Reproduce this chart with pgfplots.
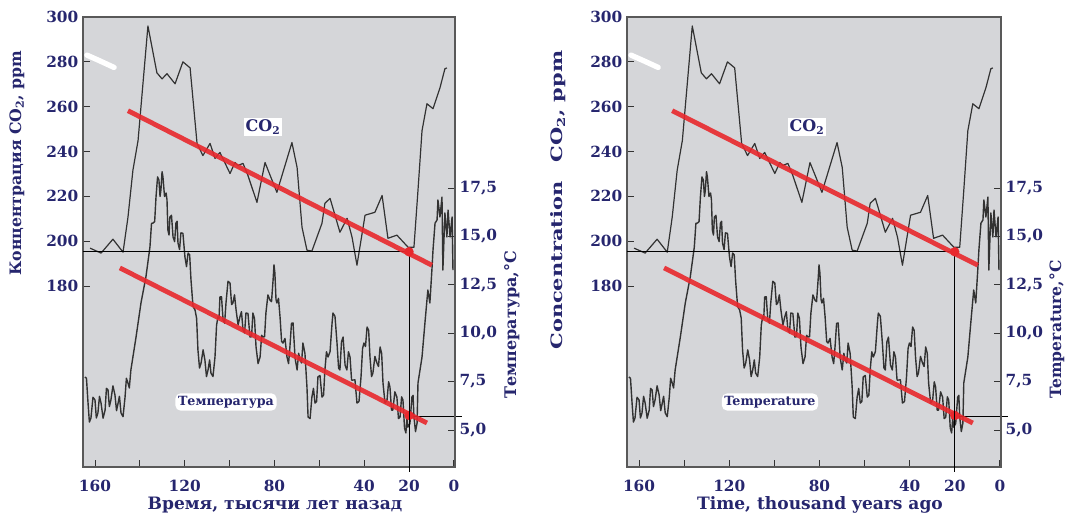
\documentclass[border=0pt]{standalone}
\usepackage{fontspec}
\setmainfont{DejaVu Serif}
\usepackage{pgfplots}
\usepackage{pgfplotstable}
\pgfplotsset{compat=1.18}
\definecolor{navy}{RGB}{38,38,110}
\definecolor{bgc}{RGB}{213,214,217}
\definecolor{curve}{RGB}{50,50,50}
\definecolor{redl}{RGB}{232,40,45}

\pgfplotstableread{
x co2
162.2 196.9
157.3 194.7
152.0 200.9
147.5 195.1
145.3 210.7
143.1 231.6
140.8 244.9
136.4 296.0
132.4 275.1
130.1 272.4
127.9 274.7
124.3 270.2
120.8 280.0
117.6 277.3
114.5 243.6
111.9 238.2
108.7 243.6
106.5 236.9
104.3 239.6
99.8 230.2
97.6 235.1
96.2 233.8
94.0 234.7
91.8 229.3
87.8 217.3
84.2 235.1
78.9 221.8
72.2 244.0
69.9 232.9
67.7 206.2
65.5 196.0
63.3 195.6
58.8 208.0
57.5 216.9
55.2 219.1
53.9 214.7
50.8 204.0
47.6 210.2
45.4 201.8
43.2 189.3
39.6 211.6
35.2 212.9
32.0 220.4
29.4 201.3
25.4 202.7
20.4 197.3
17.8 197.3
16.0 222.7
14.2 249.3
12.0 261.3
9.3 259.1
6.2 268.4
4.0 276.9
3.1 277.3
}\coo

\pgfplotstableread{
x t
164.5 7.74
163.8 7.67
163.1 6.39
162.5 5.41
161.8 5.62
160.9 6.69
160.0 6.55
159.4 5.62
158.7 5.88
158.0 6.74
157.3 6.39
156.4 5.61
155.5 6.03
154.9 7.15
154.2 7.07
153.6 6.21
152.9 6.55
152.0 7.28
151.1 6.81
150.4 6.00
149.7 6.39
149.1 6.74
148.4 5.88
147.5 5.69
146.6 6.70
146.0 7.67
145.3 7.43
144.7 7.17
144.0 8.10
141.7 9.80
139.5 11.56
137.3 12.90
135.5 14.45
134.8 15.67
134.1 15.69
133.4 15.76
132.8 17.03
132.1 18.07
131.5 17.91
131.0 17.06
130.6 17.40
130.1 18.34
129.7 18.07
129.0 17.06
128.3 17.24
127.9 16.89
127.5 15.33
127.0 15.07
126.6 16.00
125.9 16.09
125.2 14.97
124.5 14.73
123.9 15.69
123.4 15.78
123.0 14.66
122.3 14.32
121.7 15.18
120.8 15.16
119.9 13.94
119.2 13.44
118.5 14.14
117.8 14.05
117.2 12.75
116.3 11.38
115.4 11.20
114.7 10.77
114.1 9.13
113.4 8.20
112.7 8.46
111.8 9.14
111.0 8.62
110.3 7.76
109.6 8.10
108.9 8.62
108.3 7.94
107.4 7.76
106.5 8.77
105.8 10.41
105.2 10.84
104.7 10.76
104.3 11.87
103.6 11.88
102.9 10.68
102.2 10.52
101.6 11.56
100.7 12.68
99.8 12.59
99.1 11.48
98.5 11.56
97.8 11.98
97.1 11.20
96.2 10.42
95.4 10.84
94.7 11.11
94.0 10.17
93.3 10.01
92.7 11.04
91.8 11.02
90.9 9.80
90.2 9.82
89.6 11.04
88.9 10.77
88.2 9.29
87.3 8.43
86.4 8.77
85.7 9.89
85.1 9.80
84.4 9.82
83.8 11.04
82.9 11.98
82.0 11.71
81.3 11.63
80.6 12.75
80.2 13.53
79.8 13.11
79.3 11.74
78.9 11.56
78.2 11.80
77.5 10.84
76.8 9.57
76.2 9.49
75.3 9.73
74.4 8.77
73.7 8.43
73.1 9.29
72.4 10.51
71.7 10.53
70.8 8.72
69.9 8.10
69.2 8.96
68.6 8.62
67.9 8.46
67.3 9.49
66.4 8.96
65.5 7.22
65.0 5.67
64.1 5.59
63.3 6.70
62.6 7.15
61.9 6.39
61.2 6.47
60.6 7.74
59.7 7.82
58.8 6.70
58.1 6.80
57.5 8.10
56.8 9.04
56.1 8.77
55.2 9.05
54.3 10.53
53.9 11.04
53.0 10.87
52.1 9.49
51.4 8.20
50.8 8.10
50.1 9.55
49.4 9.80
48.5 8.35
47.7 8.10
47.0 9.04
46.3 8.77
45.6 7.58
45.0 7.58
44.1 7.59
43.2 6.39
42.3 6.47
41.4 7.74
40.7 9.22
40.1 9.49
39.4 9.31
38.7 10.32
38.0 10.15
37.4 8.77
36.7 7.76
36.1 7.94
35.2 8.80
34.3 8.46
33.6 8.28
32.9 9.29
32.2 8.96
31.6 7.43
30.7 6.39
29.8 6.55
29.1 7.49
28.5 7.22
27.8 6.03
27.2 6.03
26.3 6.97
25.4 6.70
24.7 5.59
24.0 5.67
23.3 6.71
22.7 6.55
22.0 5.10
21.4 4.85
20.9 5.60
20.5 5.15
19.6 5.33
18.7 6.70
18.2 6.79
17.8 5.67
17.1 4.92
16.4 5.36
16.0 7.43
14.2 8.77
12.9 10.53
11.6 12.23
10.7 11.56
9.8 13.26
9.3 14.30
8.4 15.68
7.5 15.85
7.1 16.88
6.2 16.00
5.3 17.03
4.9 13.26
4.0 16.21
3.1 14.97
2.6 16.36
1.7 14.97
0.8 16.00
0.4 13.26
}\tmp

\pgfplotsset{
  panel/.style={anchor=south west, height=337.5pt, scale only axis,
    xmin=-0.5, xmax=165.35, x dir=reverse, clip=false,
    tick align=inside, major tick length=5pt,
    tick style={line width=0.7pt, draw=black!80},
    axis line style={line width=1pt, draw=black!65},
    ticklabel style={font=\bfseries\fontsize{11.5}{12}\selectfont, text=navy}},
}

\newcommand{\panel}[2]{%
\begin{axis}[panel, at={(#1,34.5pt)}, width=#2,
  ymin=3.09, ymax=26.33,
  ytick={5,7.5,10,12.5,15,17.5},
  yticklabels={{5,0},{7,5},{10,0},{12,5},{15,0},{17,5}},
  ytick pos=right, yticklabel pos=right, xtick=\empty,
  axis background/.style={fill=bgc}]
  \addplot[curve, line width=1.05pt, line join=round] table[x=x,y=t]{\tmp};
  \addplot[black, line width=0.7pt] coordinates {(20,5.7) (-3.5,5.7)};
  \addplot[redl, opacity=0.9, line width=3.6pt] coordinates {(148.9,13.37) (12.0,5.36)};
  \addplot[only marks, mark=*, mark size=3.3pt, redl] coordinates {(20,5.75)};
\end{axis}
\begin{axis}[panel, at={(#1,34.5pt)}, width=#2,
  ymin=99.3, ymax=300,
  ytick={180,200,220,240,260,280,300},
  yticklabels={180,200,220,240,260,280,300},
  ytick pos=left,
  xtick={0,20,40,60,80,100,120,140,160},
  xticklabels={0,20,40,,80,,120,,160},
  xtick pos=bottom,
  xticklabel style={yshift=-6.5pt}]
  \addplot[white, line width=4pt, line cap=round] coordinates {(163.6,283) (158,280.5) (151.5,277.5)};
  \addplot[curve, line width=0.9pt, line join=round] table[x=x,y=co2]{\coo};
  \addplot[black, line width=0.7pt] coordinates {(165.35,195.6) (20,195.6) (20,97.1)};
  \addplot[redl, opacity=0.9, line width=3.6pt] coordinates {(145.3,258.2) (9.8,189.3)};
  \addplot[only marks, mark=*, mark size=3.3pt, redl] coordinates {(20,195.3)};
\end{axis}}

\begin{document}
\begin{tikzpicture}
\path[use as bounding box] (0,0) rectangle (801pt,384.75pt);
\panel{62.25pt}{279pt}
\panel{470.25pt}{280.5pt}
\begin{scope}[every node/.style={text=navy, font=\bfseries}]
% left panel
\node[rotate=90, anchor=east, font=\bfseries\fontsize{11.8}{12}\selectfont] at (12.75pt,350.25pt) {Концентрация CO\textsubscript{2}, ppm};
\node[rotate=90, anchor=west, font=\bfseries\fontsize{12}{12}\selectfont] at (384pt,82.5pt) {Температура,°C};
\node[font=\bfseries\fontsize{12.8}{13}\selectfont] at (206.25pt,6pt) {Время, тысячи лет назад};
\node[fill=white, inner sep=1.5pt, font=\bfseries\fontsize{12}{13}\selectfont] at (197.25pt,289.5pt) {CO\textsubscript{2}};
\node[fill=white, rounded corners=4pt, inner sep=2pt, font=\bfseries\fontsize{9.5}{10}\selectfont] at (169.5pt,83.25pt) {Температура};
% right panel
\node[rotate=90, anchor=east, font=\bfseries\fontsize{11.8}{12}\selectfont] at (418.5pt,350.25pt) {\scalebox{1.33}[1]{Concentration\hspace{0.9em}CO\textsubscript{2}, ppm}};
\node[rotate=90, anchor=west, font=\bfseries\fontsize{11.7}{12}\selectfont] at (792.75pt,82.5pt) {Temperature,°C};
\node[font=\bfseries\fontsize{12.8}{13}\selectfont] at (615pt,6pt) {Time, thousand years ago};
\node[fill=white, inner sep=1.5pt, font=\bfseries\fontsize{12}{13}\selectfont] at (605.25pt,289.5pt) {CO\textsubscript{2}};
\node[fill=white, rounded corners=4pt, inner sep=2pt, font=\bfseries\fontsize{9.5}{10}\selectfont] at (577.5pt,83.25pt) {Temperature};
\end{scope}
\end{tikzpicture}
\end{document}
